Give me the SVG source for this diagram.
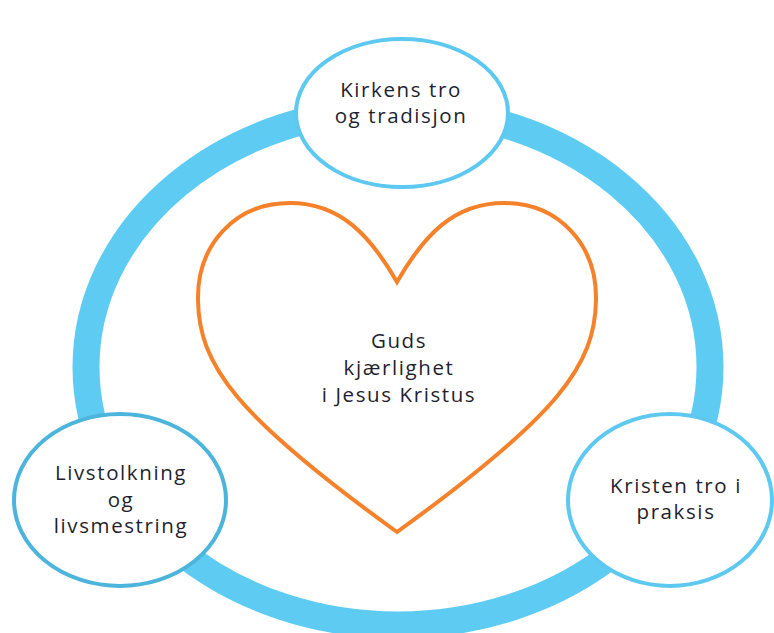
<svg xmlns="http://www.w3.org/2000/svg" width="774" height="633" viewBox="0 0 774 633">
<style>
.node{fill:#fff;stroke-width:4}
.lbl{font-family:"Open Sans","Liberation Sans",sans-serif;font-size:20.5px;letter-spacing:1.6px;fill:#1f1f2e;text-anchor:middle}
</style>
<rect width="774" height="633" fill="#fff"/>
<g id="connectors">
<ellipse id="ring" cx="398" cy="367" rx="312" ry="258" fill="none" stroke="#5ECCF2" stroke-width="27"/>
</g>
<g id="heart">
<path d="M397,282 C370,235 340,203 290,203 C235,203 197,245 198,300 C199,365 235,415 397,532 C559,415 595,365 596,300 C597,245 559,203 504,203 C454,203 424,235 397,282 Z" fill="#fff" stroke="#F5822A" stroke-width="4" stroke-linejoin="miter"/>
<text class="lbl" x="399" y="348">Guds</text>
<text class="lbl" x="399" y="375">kjærlighet</text>
<text class="lbl" x="399" y="402">i Jesus Kristus</text>
</g>
<g id="node-top">
<ellipse class="node" cx="402" cy="113" rx="106" ry="74" stroke="#5DC9F1"/>
<text class="lbl" x="401" y="97">Kirkens tro</text>
<text class="lbl" x="401" y="123">og tradisjon</text>
</g>
<g id="node-left">
<ellipse class="node" cx="120" cy="500" rx="106" ry="86" stroke="#4DB4DC"/>
<text class="lbl" x="121" y="480">Livstolkning</text>
<text class="lbl" x="121" y="507">og</text>
<text class="lbl" x="121" y="533">livsmestring</text>
</g>
<g id="node-right">
<ellipse class="node" cx="670" cy="500" rx="102" ry="86" stroke="#5DC9F1"/>
<text class="lbl" x="676" y="493">Kristen tro i</text>
<text class="lbl" x="676" y="519">praksis</text>
</g>
</svg>
